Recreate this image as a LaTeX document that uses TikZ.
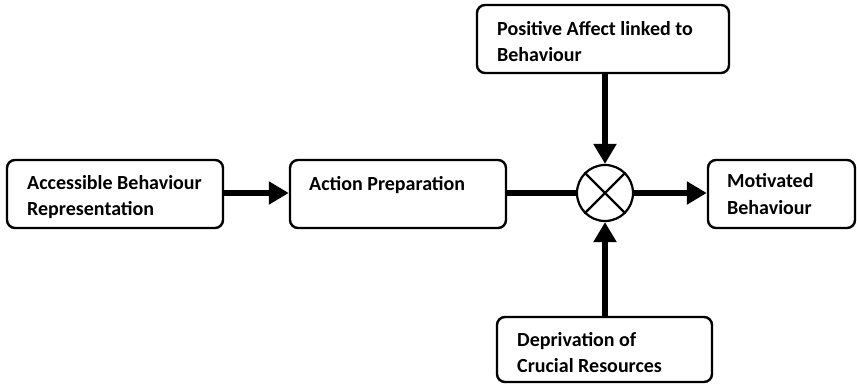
\documentclass[tikz,border=0pt]{standalone}
\usepackage{fontspec}
\setmainfont{Carlito}
\usetikzlibrary{arrows.meta}
\begin{document}
\begin{tikzpicture}[x=1pt,y=-1pt,
  box/.style={draw,line width=2.4pt,rounded corners=8pt,inner sep=0pt},
  txt/.style={anchor=base west,inner sep=0pt,font=\fontsize{20}{26}\selectfont\bfseries,align=left},
  thick line/.style={line width=6.5pt},
  arr/.style={thick line,-{Triangle[length=20pt,width=22pt]}}]
\useasboundingbox (0,0) rectangle (857,385);
\node[box,minimum width=216pt,minimum height=68pt] (A) at (115,194) {};
\node[box,minimum width=216pt,minimum height=68pt] (B) at (398,194) {};
\node[draw,circle,line width=2.2pt,minimum size=56pt,inner sep=0pt] (C) at (605,193) {};
\node[box,minimum width=252pt,minimum height=68pt] (T) at (603,39) {};
\node[box,minimum width=147pt,minimum height=68pt] (R) at (781.5,194) {};
\node[box,minimum width=215pt,minimum height=65pt] (D) at (604.5,349.5) {};
\draw[line width=2.2pt] (C.north west) -- (C.south east) (C.north east) -- (C.south west);
\node[txt] (tA) at (27,215) {Accessible Behaviour\\Representation};
\node[txt] (tB) at (309,190) {Action Preparation};
\node[txt] (tT) at (497,62) {Positive Affect linked to\\Behaviour};
\node[txt] (tR) at (727,214) {Motivated\\Behaviour};
\node[txt] (tD) at (517,372) {Deprivation of\\Crucial Resources};
\draw[arr] (A.east |- C.center) -- (B.west |- C.center);
\draw[thick line] (B.east |- C.center) -- (C.west);
\draw[arr] (C.east) -- (R.west |- C.center);
\draw[arr] (C.north |- T.south) -- (C.north);
\draw[arr] (C.south |- D.north) -- (C.south);
\end{tikzpicture}
\end{document}
